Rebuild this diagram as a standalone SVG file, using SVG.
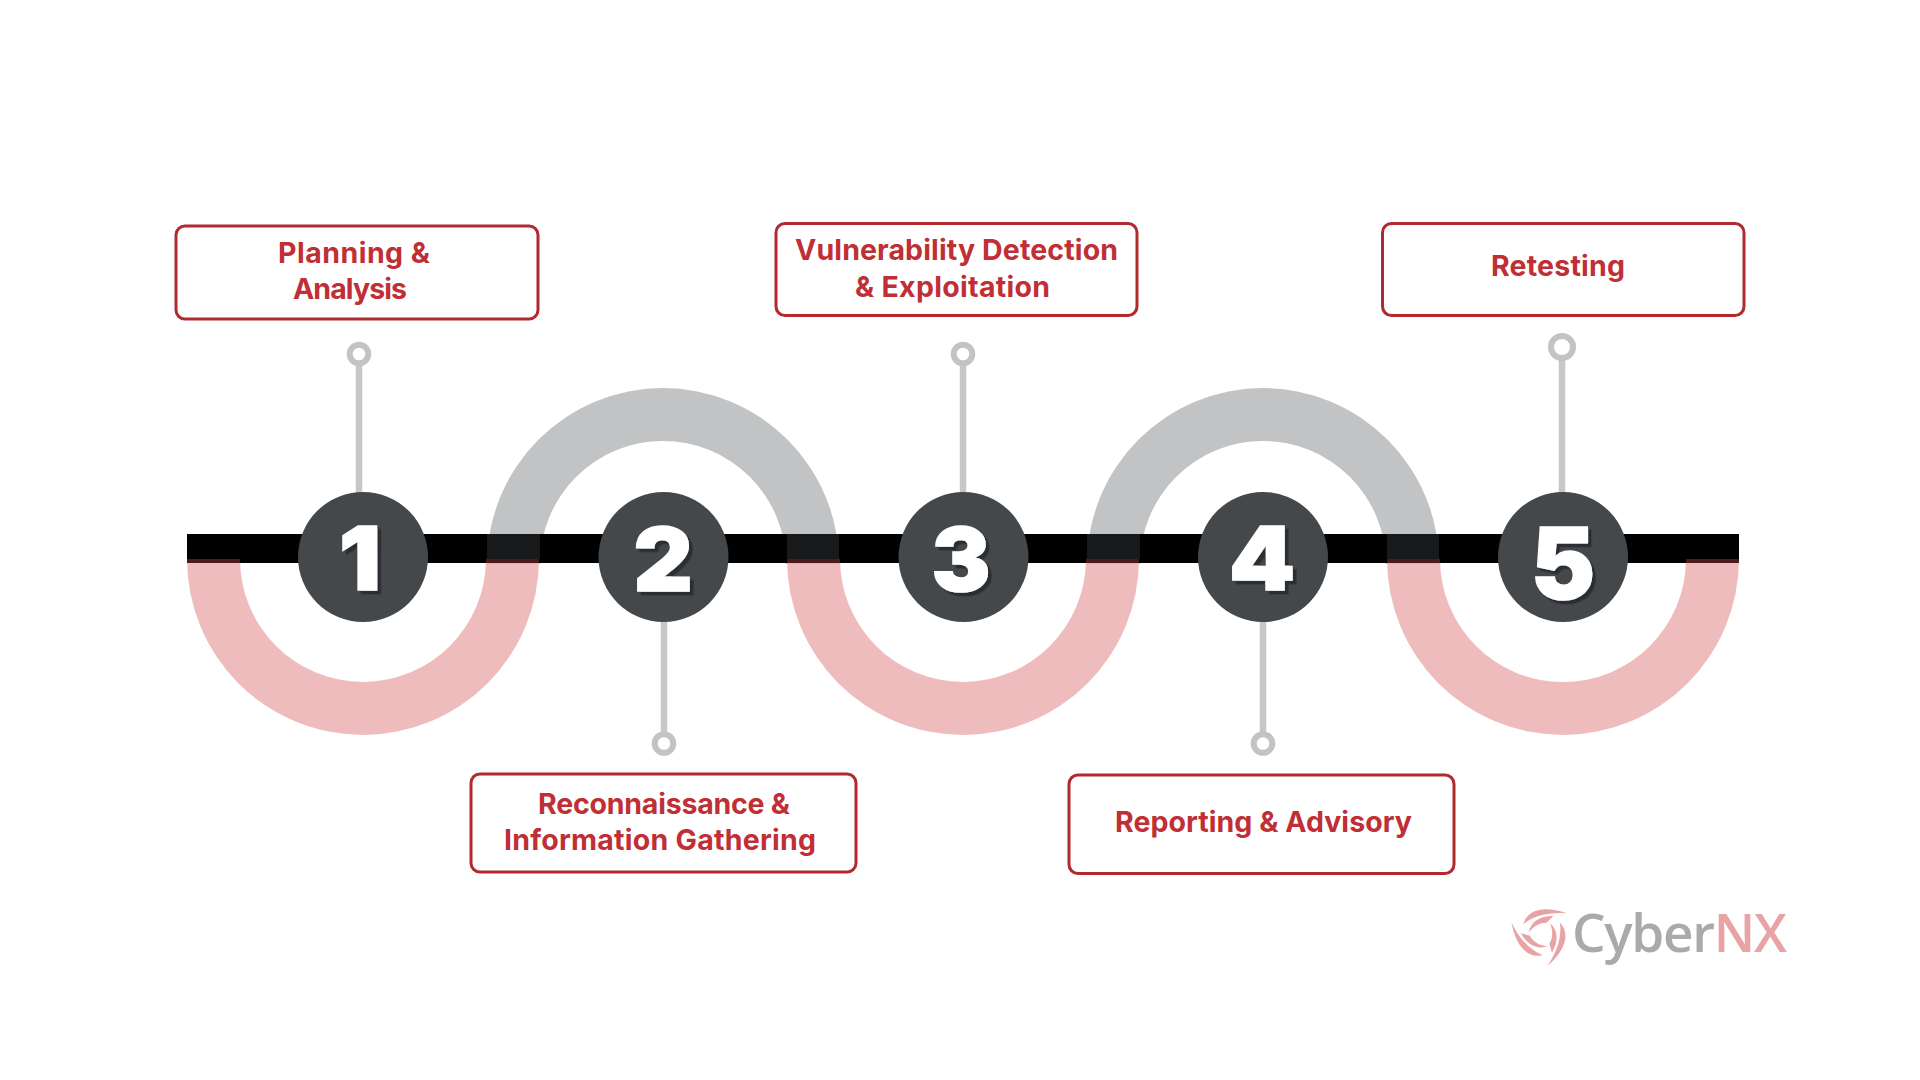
<svg xmlns="http://www.w3.org/2000/svg" width="1920" height="1080" viewBox="0 0 1920 1080">
<style>
.box{fill:#fff;stroke:#b2292f;stroke-width:3}
.lbl{font-family:Inter,"Liberation Sans",sans-serif;font-weight:700;font-size:28.5px;fill:#bf2f35}
.stem{stroke:#c6c7c8;stroke-width:6.5;fill:none}
.ring{stroke:#c2c3c4;stroke-width:6;fill:#fff}
.disc{fill:#44484b}
.num{font-family:Inter,"Liberation Sans",sans-serif;font-weight:900;font-size:88px;fill:#fff;stroke:#fff;stroke-width:1.5;text-anchor:middle;filter:url(#sh)}
.pink{fill:#efbcbd}
.gray{fill:#c1c3c4}
.logo{font-family:"Open Sans","Noto Sans",sans-serif;font-size:53px;font-weight:600}
</style>
<defs>
<filter id="sh" x="-20%" y="-20%" width="150%" height="150%"><feDropShadow dx="3.500" dy="3.500" stdDeviation="0" flood-color="#2b2f32"/></filter>
<g id="arm"><path d="M-56,-30C-46,-66 -5,-90 76,-62C20,-66 -22,-56 -56,-30Z"/><path d="M-40,-5C-34,-36 -8,-54 34,-54L14,-34C-8,-34 -24,-24 -40,-5Z"/></g>
</defs>
<rect width="1920" height="1080" fill="#fff"/>
<g id="track">
<path class="pink" d="M187,559H240A123,123 0 0 0 486,559H539A176,176 0 0 1 187,559Z"/>
<path class="pink" d="M787,559H840A123,123 0 0 0 1086,559H1139A176,176 0 0 1 787,559Z"/>
<path class="pink" d="M1387,559H1440A123,123 0 0 0 1686,559H1739A176,176 0 0 1 1387,559Z"/>
<path class="gray" d="M487,564A176,176 0 0 1 839,564H786A123,123 0 0 0 540,564Z"/>
<path class="gray" d="M1087,564A176,176 0 0 1 1439,564H1386A123,123 0 0 0 1140,564Z"/>
<rect x="187" y="534" width="1552" height="29" fill="#000"/>
<g fill="#17191a">
<rect x="487" y="534" width="53" height="25"/><rect x="787" y="534" width="52" height="25"/><rect x="1087" y="534" width="53" height="25"/><rect x="1387" y="534" width="52" height="25"/>
</g>
<g fill="#4b1a1c">
<rect x="187" y="559" width="53" height="4"/><rect x="486" y="559" width="53" height="4"/><rect x="787" y="559" width="53" height="4"/><rect x="1086" y="559" width="53" height="4"/><rect x="1387" y="559" width="53" height="4"/><rect x="1686" y="559" width="53" height="4"/>
</g>
</g>
<g id="connectors">
<path class="stem" d="M359,366V495"/>
<path class="stem" d="M664,620V732"/>
<path class="stem" d="M963,366V495"/>
<path class="stem" d="M1263,620V732"/>
<path class="stem" d="M1562,358V495"/>
</g>
<g id="step1">
<circle class="ring" cx="359" cy="354" r="9.3"/>
<circle class="disc" cx="363" cy="557" r="65"/>
<text class="num" transform="translate(360,590) scale(1.05,1)">1</text>
<rect class="box" x="176" y="226" width="362" height="93" rx="9"/>
<text class="lbl" x="278" y="263" textLength="152">Planning &amp;</text>
<text class="lbl" x="293" y="299" textLength="114">Analysis</text>
</g>
<g id="step2">
<circle class="ring" cx="664" cy="743.5" r="9.3"/>
<circle class="disc" cx="663.5" cy="557" r="65"/>
<text class="num" transform="translate(663,591) scale(1.04,1)">2</text>
<rect class="box" x="471" y="774" width="385" height="98" rx="9"/>
<text class="lbl" x="538" y="813.500" textLength="252">Reconnaissance &amp;</text>
<text class="lbl" x="504" y="850" textLength="312">Information Gathering</text>
</g>
<g id="step3">
<circle class="ring" cx="963" cy="354" r="9.3"/>
<circle class="disc" cx="963.5" cy="557" r="65"/>
<text class="num" transform="translate(961,591)">3</text>
<rect class="box" x="776" y="223.500" width="361" height="92" rx="9"/>
<text class="lbl" x="795" y="260" textLength="323">Vulnerability Detection</text>
<text class="lbl" x="855" y="297" textLength="195">&amp; Exploitation</text>
</g>
<g id="step4">
<circle class="ring" cx="1263" cy="743.5" r="9.3"/>
<circle class="disc" cx="1263" cy="557" r="65"/>
<text class="num" transform="translate(1262,590) scale(1.07,1)">4</text>
<rect class="box" x="1069" y="775" width="385" height="98.500" rx="9"/>
<text class="lbl" x="1115" y="832" textLength="297">Reporting &amp; Advisory</text>
</g>
<g id="step5">
<circle class="ring" cx="1562" cy="347" r="11"/>
<circle class="disc" cx="1563" cy="557" r="65"/>
<text class="num" style="font-size:99px" transform="translate(1563,599) scale(.97,1)">5</text>
<rect class="box" x="1382.500" y="223.500" width="361.500" height="92" rx="9"/>
<text class="lbl" x="1491" y="276" textLength="134">Retesting</text>
</g>
<g id="logo">
<g fill="#e8a3a5" transform="translate(1542,934) scale(.3333)">
<use href="#arm"/><use href="#arm" transform="rotate(120)"/><use href="#arm" transform="rotate(240)"/>
</g>
<text class="logo" x="1572" y="952" fill="#a9aaab" textLength="215">Cyber<tspan fill="#e8a3a5">NX</tspan></text>
</g>
</svg>
